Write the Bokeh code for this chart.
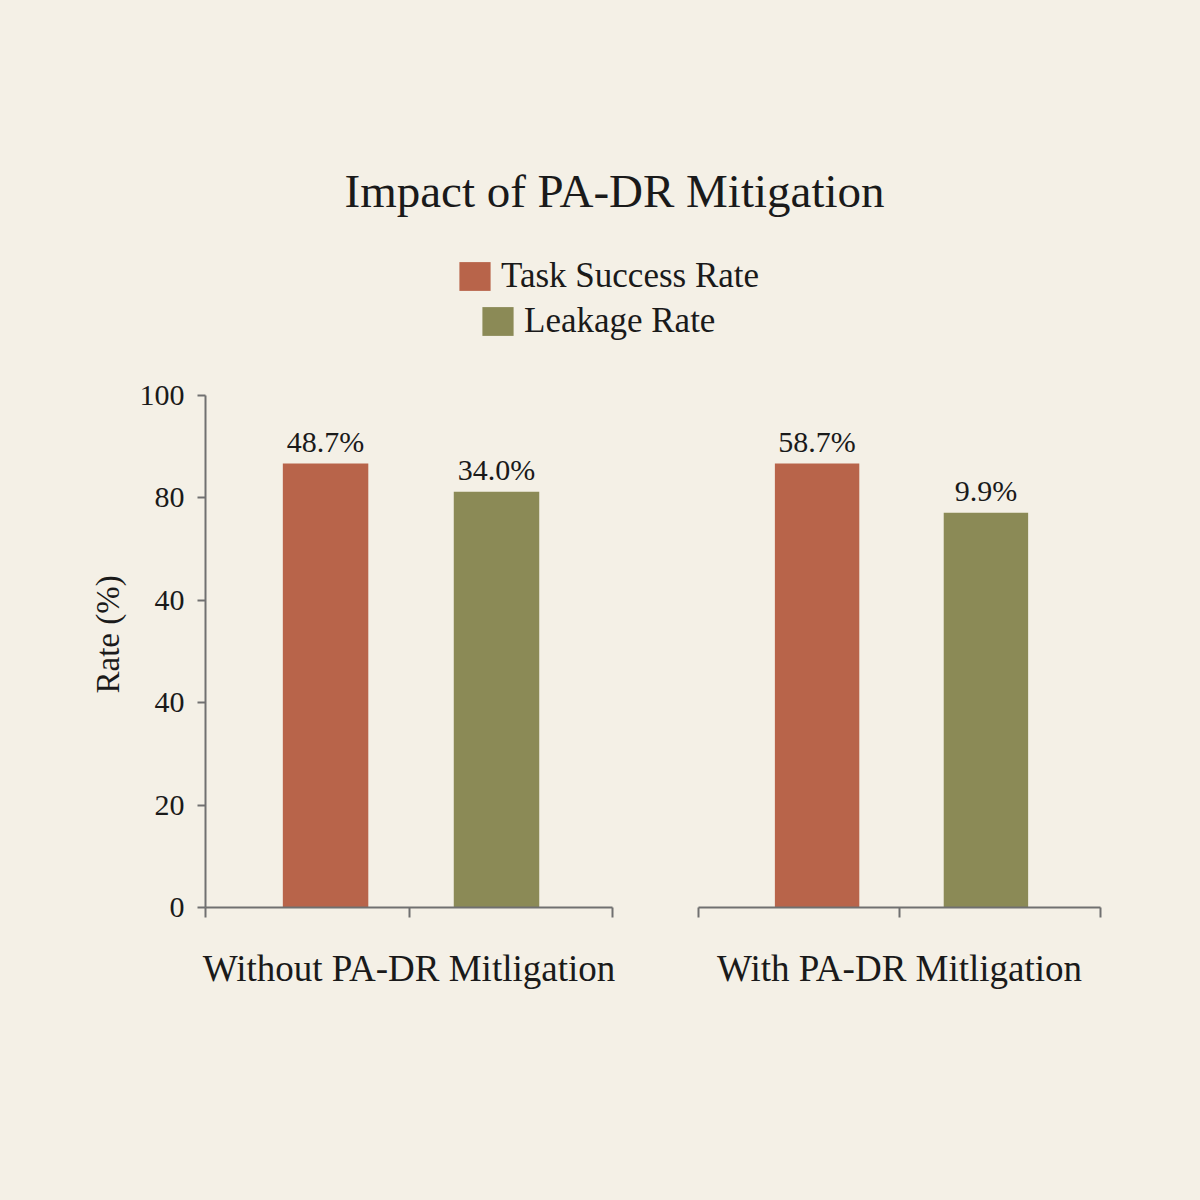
from bokeh.plotting import figure
from bokeh.models import (ColumnDataSource, Range1d, FixedTicker, Legend, LegendItem, Label, Title)
from bokeh.layouts import column, row
from bokeh.embed import file_html
from bokeh.resources import INLINE

# ---- data ----
groups = ["Without PA-DR Mitligation", "With PA-DR Mitligation"]
series = ["Task Success Rate", "Leakage Rate"]
task_heights = [86.7, 86.7]
leak_heights = [81.2, 77.1]
task_labels = ["48.7%", "58.7%"]
leak_labels = ["34.0%", "9.9%"]
y_ticks = [0, 20, 40, 60, 80, 100]
y_tick_labels = ["0", "20", "40", "40", "80", "100"]
x_ticks = [0, 0.5, 1]
title_text = "Impact of PA-DR Mitigation"
y_label = "Rate (%)"

# ---- style ----
BG = "#F4F0E6"
C_TASK = "#B8644A"
C_LEAK = "#8B8A56"
AXC = "#707070"
FONT = "Liberation Serif"
TXT = "#1a1a1a"
X_POS = [0.295, 0.715]
BAR_W = 0.21

HEADER_H = 355
TOP_B = 395 - HEADER_H
BOT_B = 1200 - 907


def base_fig(width, height, left, right, show_y):
    p = figure(width=width, height=height, output_backend="svg", toolbar_location=None,
               x_range=Range1d(0, 1), y_range=Range1d(0, 100),
               min_border_left=left, min_border_right=right,
               min_border_top=TOP_B, min_border_bottom=BOT_B,
               y_axis_location="left" if show_y else None)
    p.background_fill_color = BG
    p.border_fill_color = BG
    p.outline_line_color = None
    p.grid.visible = False
    xa = p.xaxis[0]
    xa.ticker = FixedTicker(ticks=x_ticks)
    xa.major_label_overrides = {t: "" for t in x_ticks}
    xa.major_label_standoff = 0
    xa.major_tick_out = 10
    xa.major_tick_in = 0
    xa.minor_tick_out = 0
    xa.minor_tick_in = 0
    xa.axis_line_color = AXC
    xa.axis_line_width = 2
    xa.major_tick_line_color = AXC
    xa.major_tick_line_width = 2
    xa.axis_label_text_font = FONT
    xa.axis_label_text_font_size = "37px"
    xa.axis_label_text_font_style = "normal"
    xa.axis_label_text_color = TXT
    xa.axis_label_standoff = 30
    if show_y:
        ya = p.yaxis[0]
        ya.ticker = FixedTicker(ticks=y_ticks)
        ya.major_label_overrides = {t: l for t, l in zip(y_ticks, y_tick_labels)}
        ya.major_label_text_font = FONT
        ya.major_label_text_font_size = "30px"
        ya.major_label_text_color = TXT
        ya.major_label_standoff = 13
        ya.major_tick_out = 8
        ya.major_tick_in = 0
        ya.minor_tick_out = 0
        ya.minor_tick_in = 0
        ya.axis_line_color = AXC
        ya.axis_line_width = 2
        ya.major_tick_line_color = AXC
        ya.major_tick_line_width = 2
        # y-axis title as a side title, placed slightly above centre like the reference
        p.add_layout(Title(text=y_label, align="left", offset=214, standoff=22,
                           text_font=FONT, text_font_size="33px",
                           text_font_style="normal", text_color=TXT), "left")
    return p


panels = []
for i, (w, l, r, show_y) in enumerate([(650, 205, 38, True), (550, 48, 100, False)]):
    p = base_fig(w, 1200 - HEADER_H, l, r, show_y)
    p.xaxis[0].axis_label = groups[i]
    src = ColumnDataSource(dict(
        x=X_POS,
        top=[task_heights[i], leak_heights[i]],
        color=[C_TASK, C_LEAK],
        label=[task_labels[i], leak_labels[i]],
    ))
    p.vbar(x="x", top="top", bottom=0, width=BAR_W, fill_color="color", line_color=None, source=src)
    p.text(x="x", y="top", text="label", source=src, y_offset=-6,
           text_align="center", text_baseline="bottom",
           text_font=FONT, text_font_size="30px", text_color=TXT)
    panels.append(p)

# ---- header with title and legend ----
h = figure(width=1200, height=HEADER_H, output_backend="svg", toolbar_location=None,
           x_range=Range1d(0, 1), y_range=Range1d(0, 1),
           x_axis_location=None, y_axis_location=None,
           min_border=0)
h.background_fill_color = BG
h.border_fill_color = BG
h.outline_line_color = None
h.grid.visible = False

h.add_layout(Label(x=614, y=HEADER_H - 190, x_units="screen", y_units="screen",
                   text=title_text, text_align="center", text_baseline="middle",
                   text_font=FONT, text_font_size="47px", text_color=TXT))

# zero-size swatch renderers, only used to feed the legend
sw = ColumnDataSource(dict(x=[0.5], top=[0]))
r_task = h.vbar(x="x", top="top", bottom=0, width=0, source=sw, fill_color=C_TASK, line_color=None)
r_leak = h.vbar(x="x", top="top", bottom=0, width=0, source=sw, fill_color=C_LEAK, line_color=None)

for name, rend, loc in [(series[0], r_task, (455, HEADER_H - 296)),
                        (series[1], r_leak, (478, HEADER_H - 341))]:
    lg = Legend(items=[LegendItem(label=name, renderers=[rend])], location=loc,
                glyph_width=39, glyph_height=36, label_height=36,
                label_text_font=FONT, label_text_font_size="35px", label_text_color=TXT,
                label_standoff=7, padding=0, margin=0, spacing=0,
                border_line_color=None, background_fill_alpha=0)
    h.add_layout(lg)

layout = column(h, row(*panels, spacing=0), spacing=0)
layout.styles = {"background-color": BG}

open("out.html", "w").write(file_html(layout, INLINE))
